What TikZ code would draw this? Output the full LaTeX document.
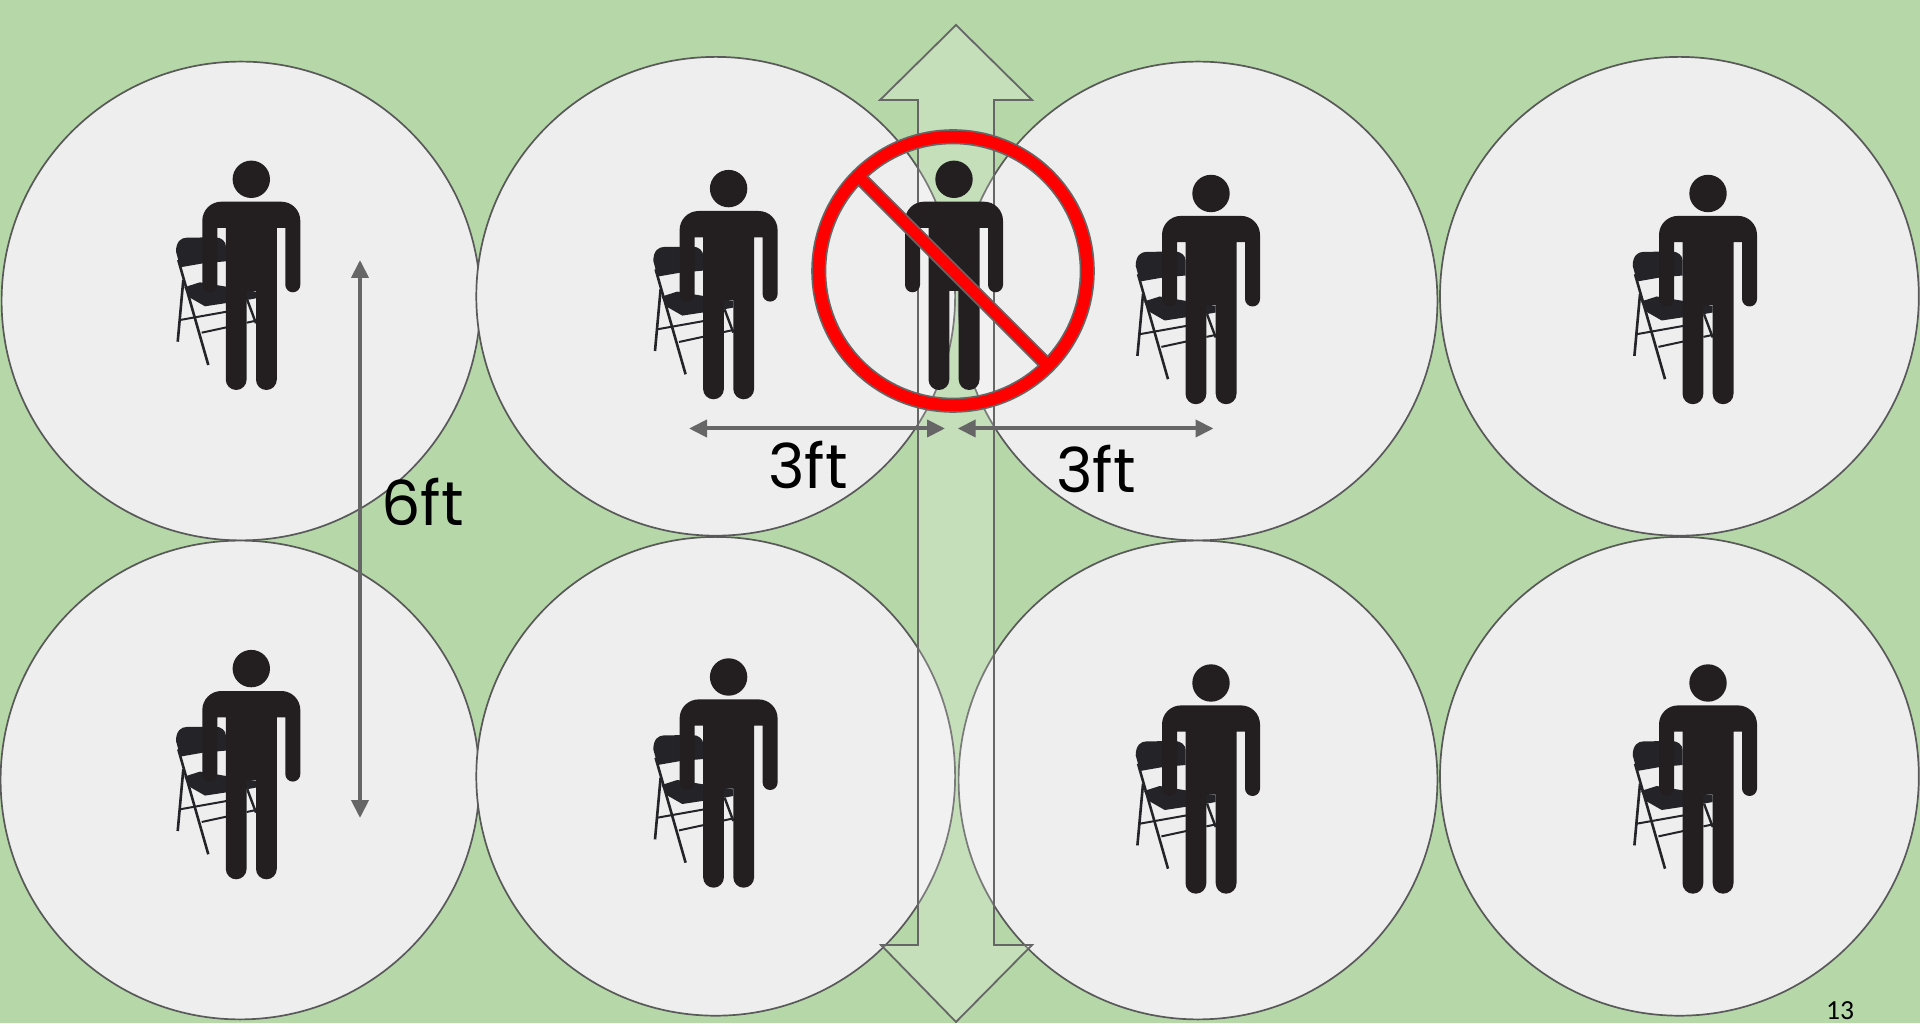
\documentclass[tikz,border=0pt]{standalone}
\usepackage{fontspec}
\setmainfont{Poppins}
\newfontfamily\pagefont{Carlito}
\usetikzlibrary{arrows.meta,positioning}
\definecolor{lawn}{HTML}{B6D7A8}
\definecolor{spot}{HTML}{EEEEEE}
\definecolor{rim}{HTML}{595959}
\definecolor{dimline}{HTML}{666666}
\definecolor{figure}{HTML}{231F20}
\definecolor{chairblack}{HTML}{242428}
\tikzset{
  person/.pic={
    \fill[figure] (0,0) circle[radius=18.7];
    \fill[figure] (-49,-105.5) -- (-49,-41.4) arc[start angle=180,end angle=90,radius=19]
      -- (30,-22.4) arc[start angle=90,end angle=0,radius=19]
      -- (49,-105.5) arc[start angle=0,end angle=-180,radius=7.5]
      -- (34,-48.7) -- (25.5,-48.7) -- (25.5,-200.3) arc[start angle=0,end angle=-180,radius=10.4]
      -- (4.7,-111.7) -- (-4.7,-111.7) -- (-4.7,-200.3) arc[start angle=0,end angle=-180,radius=10.4]
      -- (-25.5,-48.7) -- (-34,-48.7) -- (-34,-105.5) arc[start angle=0,end angle=-180,radius=7.5]
      -- cycle;
  },
  chair/.pic={
    \fill[chairblack] (-75.3,-72.4) .. controls (-75.3,-62) and (-70,-58.4) .. (-64.6,-58.4)
      -- (-36.3,-58) .. controls (-30,-58) and (-25.3,-62) .. (-25.3,-67.4)
      -- (-25.3,-82) -- (-48,-84) -- (-71,-88) -- cycle;
    \fill[chairblack] (-67,-108) -- (-51.3,-103) -- (4.7,-112.4) -- (4.7,-119)
      -- (-4.6,-120.7) -- (-46.3,-127) -- (-62,-118) -- cycle;
    \draw[chairblack,line width=1.3pt] (-73,-80.7) -- (-43,-185.7);
    \draw[chairblack,line width=1.3pt] (-68,-100.7) -- (-73.6,-162.4);
    \draw[chairblack,line width=1pt] (-71.3,-140.7) -- (-24.6,-132.4);
    \draw[chairblack,line width=1pt] (-49.6,-153.4) -- (-24.6,-148);
    \draw[chairblack,line width=1.2pt] (-4,-120.7) -- (4.7,-144);
    \draw[chairblack,line width=1pt] (-4.6,-143.4) -- (4.7,-141.4);
  }
}
\begin{document}
\begin{tikzpicture}[x=.5pt,y=.5pt,
  seat/.style={draw=rim, fill=spot, circle, line width=.85pt, inner sep=0pt, minimum size=239.4pt},
  dim/.style={{Triangle[length=9pt,width=8.5pt]}-{Triangle[length=9pt,width=8.5pt]}, draw=dimline, line width=2pt},
  dimtext/.style={font=\fontsize{31}{31}\selectfont, inner sep=0pt}]
\useasboundingbox (0,0) rectangle (1920,1023);
\clip (0,0) rectangle (1920,1023);
\fill[lawn] (0,0) rectangle (1920,1023);
% circles
\node[seat] (c1) at (241,722) {};
\node[seat] (c2) at (715.7,726.7) {};
\node[seat] (c3) at (1198,722) {};
\node[seat] (c4) at (1679.4,726.7) {};
\node[seat] (c5) at (240,243) {};
\node[seat] (c6) at (715.7,246.7) {};
\node[seat] (c7) at (1198,243) {};
\node[seat] (c8) at (1679.4,246.7) {};
% aisle
\draw[draw=dimline, line width=.9pt, fill=white, fill opacity=.2]
  (956,998) -- (1032,923) -- (994,923) -- (994,78) -- (1032,78) -- (956,1) -- (881,78)
  -- (918,78) -- (918,923) -- (880,923) -- cycle;
% chairs and people
\pic at (251.3,843.7) {chair};
\pic at (728.6,834.4) {chair};
\pic at (1211,829.5) {chair};
\pic at (1708,829.5) {chair};
\pic at (251.3,354.4) {chair};
\pic at (728.6,346) {chair};
\pic at (1211,340) {chair};
\pic at (1708,340) {chair};
\pic at (251.3,843.7) {person};
\pic at (728.6,834.4) {person};
\pic at (1211,829.5) {person};
\pic at (1708,829.5) {person};
\pic at (251.3,354.4) {person};
\pic at (728.6,346) {person};
\pic at (1211,340) {person};
\pic at (1708,340) {person};
\pic at (954,843.7) {person};
% no entry sign
\draw[draw=dimline, line width=.8pt, fill=red, even odd rule]
  (953,752) circle[radius=141]
  ([shift={(953,752)}]132.1:127.5) arc[start angle=132.1,end angle=-42.1,radius=127.5] -- cycle
  ([shift={(953,752)}]137.9:127.5) arc[start angle=137.9,end angle=312.1,radius=127.5] -- cycle;
% distances
\coordinate (v1) at (360,763);
\coordinate (v2) at (360,205);
\coordinate (h1) at (689,594.5);
\coordinate (h2) at (945,594.5);
\coordinate (h3) at (957.7,594.5);
\coordinate (h4) at (1213.5,594.5);
\draw[dim] (v1) -- (v2);
\draw[dim] (h1) -- (h2);
\draw[dim] (h3) -- (h4);
\node[dimtext] (six) at (422.5,521) {6ft};
\node[dimtext] (threea) at (808,558) {3ft};
\node[dimtext] (threeb) at (1096,554) {3ft};
\node[font=\pagefont\fontsize{13.8}{14}\selectfont, inner sep=0pt] (pageno) at (1840,12.5) {13};
\end{tikzpicture}
\end{document}
